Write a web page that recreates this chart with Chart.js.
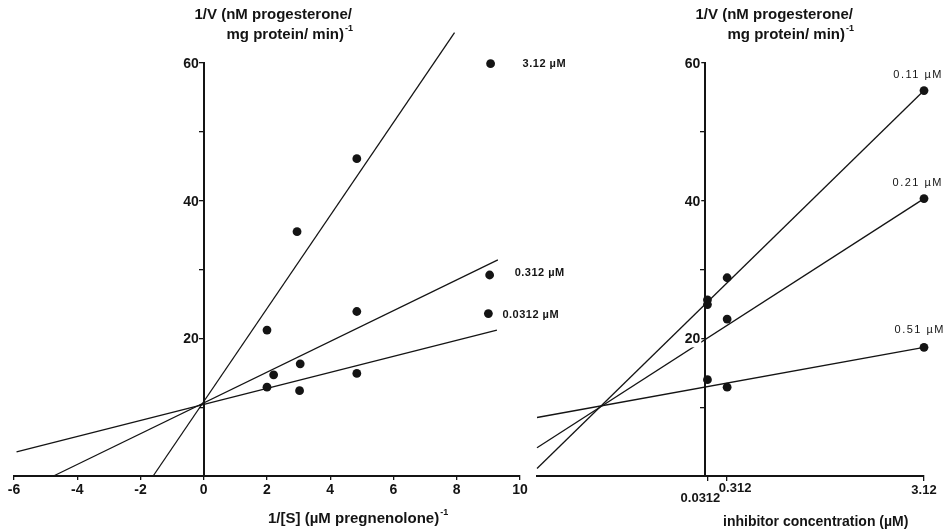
<!DOCTYPE html>
<html><head><meta charset="utf-8">
<script src="https://cdn.jsdelivr.net/npm/chart.js@4/dist/chart.umd.min.js"></script>
<style>
html,body{margin:0;padding:0;background:#fff;}
#wrap{position:relative;width:946px;height:532px;overflow:hidden;}
canvas{position:absolute;left:0;top:0;}
</style></head><body>
<div id="wrap">
<canvas id="c1" width="946" height="532"></canvas>
<canvas id="c2" width="946" height="532"></canvas>
</div>
<script>
// ---------- LEFT PANEL: 1/V vs 1/[S] (Lineweaver-Burk) ----------
const lbXTicks = [-6, -4, -2, 0, 2, 4, 6, 8, 10];
const lbYTicks = [10, 20, 30, 40, 50, 60];
const lbYLabelled = [20, 40, 60];
const inhibitorNames = ['3.12 µM', '0.312 µM', '0.0312 µM'];
const lbPts_3_12 = [{x: 2.0, y: 21.2}, {x: 2.95, y: 35.5}, {x: 4.84, y: 46.1}, {x: 9.07, y: 59.9}];
const lbPts_0_312 = [{x: 2.21, y: 14.7}, {x: 3.05, y: 16.3}, {x: 4.84, y: 23.9}, {x: 9.04, y: 29.2}];
const lbPts_0_0312 = [{x: 2.0, y: 12.9}, {x: 3.03, y: 12.4}, {x: 4.84, y: 14.9}, {x: 9.0, y: 23.6}];
const lbLine_3_12 = [{x: -1.6, y: 0}, {x: 7.93, y: 64.4}];
const lbLine_0_312 = [{x: -4.75, y: 0}, {x: 9.3, y: 31.4}];
const lbLine_0_0312 = [{x: -5.92, y: 3.5}, {x: 9.27, y: 21.2}];

// ---------- RIGHT PANEL: 1/V vs inhibitor concentration (Dixon) ----------
const dxXTicks = [0.0312, 0.312, 3.12];
const dxXTickLabels = ['0.0312', '0.312', '3.12'];
const dxYTicks = [10, 20, 30, 40, 50, 60];
const dxYLabelled = [20, 40, 60];
const substrateNames = ['0.11 µM', '0.21 µM', '0.51 µM'];
const dxPts_0_11 = [{x: 0.0312, y: 25.6}, {x: 0.312, y: 28.8}, {x: 3.12, y: 56.0}];
const dxPts_0_21 = [{x: 0.0312, y: 24.9}, {x: 0.312, y: 22.8}, {x: 3.12, y: 40.3}];
const dxPts_0_51 = [{x: 0.0312, y: 14.0}, {x: 0.312, y: 12.9}, {x: 3.12, y: 18.7}];
const dxLine_0_11 = [{x: -2.4, y: 1.1}, {x: 3.12, y: 56.0}];
const dxLine_0_21 = [{x: -2.4, y: 4.1}, {x: 3.12, y: 40.3}];
const dxLine_0_51 = [{x: -2.4, y: 8.5}, {x: 3.12, y: 18.7}];

// ---------- styling ----------
const INK = '#141414';
const FAM = '"Liberation Sans", Arial, Helvetica, sans-serif';
const tickFont = {family: FAM, size: 14, weight: 'bold'};

function lineDs(pts) {
  return {type: 'line', data: pts, borderColor: INK, borderWidth: 1.3, pointRadius: 0,
          fill: false, tension: 0, clip: false, order: 2};
}
function dotDs(pts) {
  return {type: 'scatter', data: pts, pointRadius: 4.4, pointBackgroundColor: INK,
          pointBorderColor: INK, pointBorderWidth: 0, showLine: false, clip: false, order: 1};
}

function drawSupText(ctx, text, sup, x, y, size, align) {
  ctx.save();
  ctx.fillStyle = INK;
  ctx.textBaseline = 'middle';
  ctx.font = 'bold ' + size + 'px ' + FAM;
  const w1 = ctx.measureText(text).width;
  ctx.font = 'bold ' + Math.round(size * 0.62) + 'px ' + FAM;
  const w2 = sup ? ctx.measureText(sup).width + 1 : 0;
  let x0 = x;
  if (align === 'right') x0 = x - w1 - w2;
  else if (align === 'center') x0 = x - (w1 + w2) / 2;
  ctx.textAlign = 'left';
  ctx.font = 'bold ' + size + 'px ' + FAM;
  ctx.fillText(text, x0, y);
  if (sup) {
    ctx.font = 'bold ' + Math.round(size * 0.62) + 'px ' + FAM;
    ctx.fillText(sup, x0 + w1 + 1, y - size * 0.42);
  }
  ctx.restore();
}

function seriesLabel(ctx, chart, txt, pt, dx, dy, align, font, spacing) {
  const xs = chart.scales.x, ys = chart.scales.y;
  const px = xs.getPixelForValue(pt.x) + dx;
  const py = ys.getPixelForValue(pt.y) + dy;
  ctx.save();
  ctx.fillStyle = INK;
  ctx.font = font;
  ctx.textBaseline = 'middle';
  ctx.textAlign = align;
  if (spacing) ctx.letterSpacing = spacing;
  ctx.fillText(txt, px, py);
  ctx.restore();
}

// y tick labels, right-aligned to the left of the axis drawn through x=0
function yLabels(ctx, chart, labelled, backdrop) {
  const xs = chart.scales.x, ys = chart.scales.y;
  const ax = xs.getPixelForValue(0);
  ctx.save();
  ctx.font = 'bold 14px ' + FAM;
  ctx.textBaseline = 'middle';
  ctx.textAlign = 'right';
  labelled.forEach(v => {
    const t = String(v);
    const py = ys.getPixelForValue(v) + 1;
    const right = ax - 5;
    if (backdrop) {
      const w = ctx.measureText(t).width;
      ctx.fillStyle = '#fff';
      ctx.fillRect(right - w - 2, py - 8, w + 3, 16);
    }
    ctx.fillStyle = INK;
    ctx.fillText(t, right, py);
  });
  ctx.restore();
}

const leftTexts = {
  id: 'leftTexts',
  afterDraw(chart) {
    const ctx = chart.ctx;
    drawSupText(ctx, '1/V (nM progesterone/', '', 352, 15, 15, 'right');
    drawSupText(ctx, 'mg protein/ min)', '-1', 353, 35, 15, 'right');
    drawSupText(ctx, '1/[S] (µM pregnenolone)', '-1', 268, 519, 15, 'left');
    yLabels(ctx, chart, lbYLabelled, false);
    const f = 'bold 11px ' + FAM;
    seriesLabel(ctx, chart, inhibitorNames[0], lbPts_3_12[3], 32, 0, 'left', f, '0.5px');
    seriesLabel(ctx, chart, inhibitorNames[1], lbPts_0_312[3], 25, -2, 'left', f, '0.5px');
    seriesLabel(ctx, chart, inhibitorNames[2], lbPts_0_0312[3], 14, 1, 'left', f, '0.5px');
  }
};

const rightTexts = {
  id: 'rightTexts',
  afterDraw(chart) {
    const ctx = chart.ctx;
    drawSupText(ctx, '1/V (nM progesterone/', '', 853, 15, 15, 'right');
    drawSupText(ctx, 'mg protein/ min)', '-1', 854, 35, 15, 'right');
    drawSupText(ctx, 'inhibitor concentration (µM)', '', 723, 522, 14, 'left');
    yLabels(ctx, chart, dxYLabelled, true);
    // x tick labels (staggered)
    const xs = chart.scales.x;
    ctx.save();
    ctx.fillStyle = INK;
    ctx.font = 'bold 13px ' + FAM;
    ctx.textBaseline = 'middle';
    ctx.textAlign = 'center';
    ctx.fillText(dxXTickLabels[0], xs.getPixelForValue(dxXTicks[0]) - 7, 498);
    ctx.fillText(dxXTickLabels[1], xs.getPixelForValue(dxXTicks[1]) + 8, 488);
    ctx.fillText(dxXTickLabels[2], xs.getPixelForValue(dxXTicks[2]), 490);
    ctx.restore();
    const f = '11px ' + FAM;
    seriesLabel(ctx, chart, substrateNames[0], dxPts_0_11[2], 19, -16, 'right', f, '1.5px');
    seriesLabel(ctx, chart, substrateNames[1], dxPts_0_21[2], 19, -16, 'right', f, '1.5px');
    seriesLabel(ctx, chart, substrateNames[2], dxPts_0_51[2], 21, -17, 'right', f, '1.5px');
  }
};

function yScale(ticksArr) {
  return {
    type: 'linear', min: 0, max: 60, position: {x: 0},
    afterBuildTicks(s) { s.ticks = ticksArr.map(v => ({value: v})); },
    grid: {drawOnChartArea: false, drawTicks: true, tickLength: 4, color: INK, lineWidth: 1.3},
    border: {display: true, color: INK, width: 2},
    ticks: {font: tickFont, color: INK, padding: 1, callback: () => ''}
  };
}

const common = {
  responsive: false, animation: false, events: [],
  plugins: {legend: {display: false}, tooltip: {enabled: false}}
};

new Chart(document.getElementById('c1'), {
  type: 'scatter',
  data: {datasets: [
    lineDs(lbLine_3_12), lineDs(lbLine_0_312), lineDs(lbLine_0_0312),
    dotDs(lbPts_3_12), dotDs(lbPts_0_312), dotDs(lbPts_0_0312)
  ]},
  options: Object.assign({}, common, {
    layout: {padding: {left: 14, right: 946 - 520, top: 63, bottom: 0}},
    scales: {
      x: {type: 'linear', min: -6, max: 10, position: 'bottom',
          afterFit(s) { s.height = 56; },
          afterBuildTicks(s) { s.ticks = lbXTicks.map(v => ({value: v})); },
          grid: {drawOnChartArea: false, drawTicks: true, tickLength: 4, color: INK, lineWidth: 1.3},
          border: {display: true, color: INK, width: 2},
          ticks: {font: tickFont, color: INK, padding: 2, maxRotation: 0, autoSkip: false,
                  callback: v => String(v)}},
      y: yScale(lbYTicks)
    }
  }),
  plugins: [leftTexts]
});

new Chart(document.getElementById('c2'), {
  type: 'scatter',
  data: {datasets: [
    lineDs(dxLine_0_11), lineDs(dxLine_0_21), lineDs(dxLine_0_51),
    dotDs(dxPts_0_11), dotDs(dxPts_0_21), dotDs(dxPts_0_51)
  ]},
  options: Object.assign({}, common, {
    layout: {padding: {left: 537, right: 946 - 924, top: 63, bottom: 0}},
    scales: {
      x: {type: 'linear', min: -2.4, max: 3.12, position: 'bottom',
          afterFit(s) { s.height = 56; },
          afterBuildTicks(s) { s.ticks = dxXTicks.map(v => ({value: v})); },
          grid: {drawOnChartArea: false, drawTicks: true, tickLength: 5, color: INK, lineWidth: 1.3},
          border: {display: true, color: INK, width: 2},
          ticks: {font: tickFont, color: INK, maxRotation: 0, autoSkip: false, callback: () => ''}},
      y: yScale(dxYTicks)
    }
  }),
  plugins: [rightTexts]
});
</script>
</body></html>
